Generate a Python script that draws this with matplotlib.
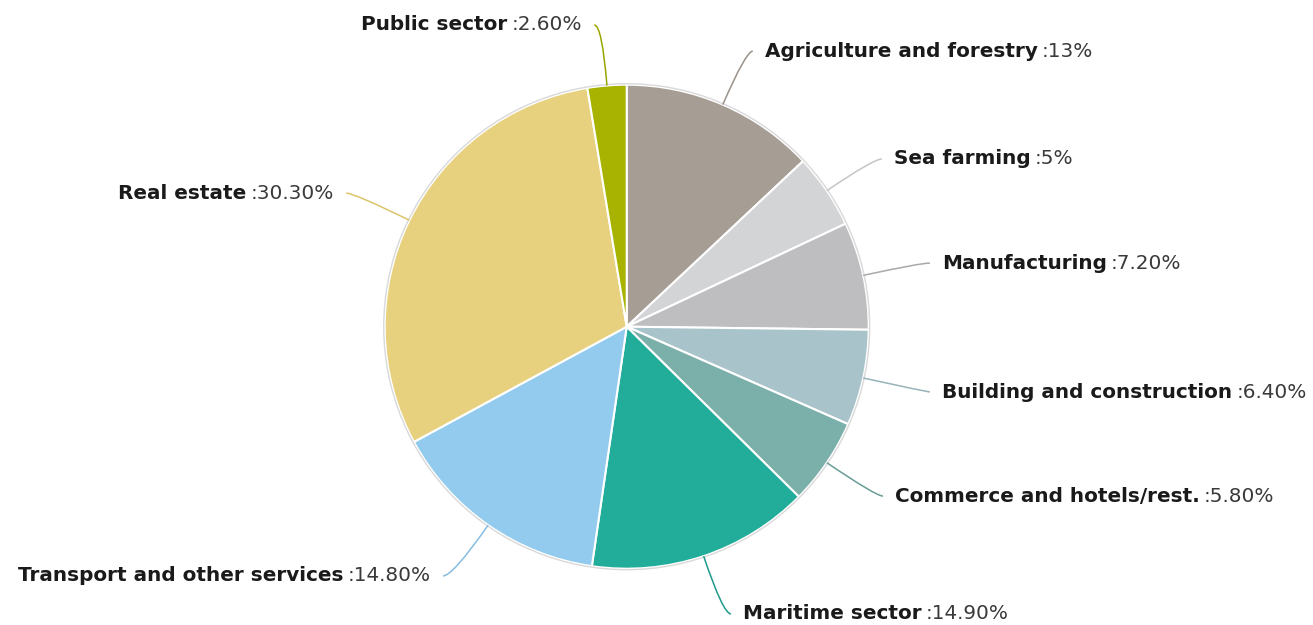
import numpy as np
import matplotlib
matplotlib.use('Agg')
import matplotlib.pyplot as plt
from matplotlib.path import Path
import matplotlib.patches as patches

## Data
sectors = ['Agriculture and forestry', 'Sea farming', 'Manufacturing',
           'Building and construction', 'Commerce and hotels/rest.',
           'Maritime sector', 'Transport and other services', 'Real estate',
           'Public sector']
shares = [13, 5, 7.2, 6.4, 5.8, 14.9, 14.8, 30.3, 2.6]

colors = ['#a69e95', '#d3d4d6', '#bebdbf', '#a8c4ca', '#7bafaa',
          '#22ad9b', '#92cbee', '#e7d17e', '#a7b300']
line_colors = ['#9a9189', '#c4c5c7', '#a9a8aa', '#98b3b9', '#6a9d98',
               '#1f9a8b', '#86bde0', '#dcc46c', '#9aa600']

# label layout: side, text edge x, text centre y (pie radius = 1)
label_pos = [('r', 0.571, 1.139), ('r', 1.104, 0.693), ('r', 1.303, 0.263),
             ('r', 1.303, -0.270), ('r', 1.109, -0.700), ('r', 0.481, -1.187),
             ('l', -0.809, -1.030), ('l', -1.209, 0.552), ('l', -0.184, 1.247)]

FS = 14.4


def fmt(v):
    if float(v).is_integer():
        return '%d%%' % v
    return '%.2f%%' % v


fig = plt.figure(figsize=(13.13, 6.25), dpi=100)
fig.patch.set_facecolor('white')
ax = fig.add_axes([0, 0, 1, 1])
ax.axis('off')

wedges, _ = ax.pie(shares, colors=colors, startangle=90, counterclock=False,
                   radius=1, wedgeprops=dict(edgecolor='white', linewidth=1.5))
ax.set_xlim(-626.7 / 242, (1313 - 626.7) / 242)
ax.set_ylim((326.7 - 625) / 242, 326.7 / 242)
ax.set_aspect('auto')
ax.add_patch(patches.Circle((0, 0), 1.004, fill=False, edgecolor='#d9d9d9', linewidth=1))

gap = 0.05
for w, name, val, lc, (side, tx, ty) in zip(wedges, sectors, shares, line_colors, label_pos):
    ang = np.deg2rad((w.theta1 + w.theta2) / 2)
    dx, dy = np.cos(ang), np.sin(ang)
    p0 = np.array([dx, dy])
    ex = tx - gap if side == 'r' else tx + gap
    p2 = np.array([ex, ty])
    # control point: radial line meets the label's horizontal
    t = (ty - p0[1]) / dy if abs(dy) > 1e-6 else -1
    ctrl = p0 + t * np.array([dx, dy])
    if t <= 0 or (side == 'r' and ctrl[0] > ex) or (side == 'l' and ctrl[0] < ex):
        ctrl = (p0 + p2) / 2
    path = Path([p0, ctrl, p2], [Path.MOVETO, Path.CURVE3, Path.CURVE3])
    ax.add_patch(patches.PathPatch(path, fill=False, edgecolor=lc, linewidth=1.1))

    if side == 'r':
        t_name = ax.text(tx, ty, name, ha='left', va='center', fontsize=FS,
                         fontweight='bold', color='#1a1a1a')
        ax.annotate(':' + fmt(val), xy=(1, 0), xycoords=t_name, xytext=(3, 0),
                    textcoords='offset points', ha='left', va='bottom',
                    fontsize=FS, color='#3a3a3a')
    else:
        t_val = ax.text(tx, ty, ':' + fmt(val), ha='right', va='center',
                        fontsize=FS, color='#3a3a3a')
        ax.annotate(name, xy=(0, 0), xycoords=t_val, xytext=(-3, 0),
                    textcoords='offset points', ha='right', va='bottom',
                    fontsize=FS, fontweight='bold', color='#1a1a1a')

fig.savefig('out.png', dpi=100, facecolor='white')
